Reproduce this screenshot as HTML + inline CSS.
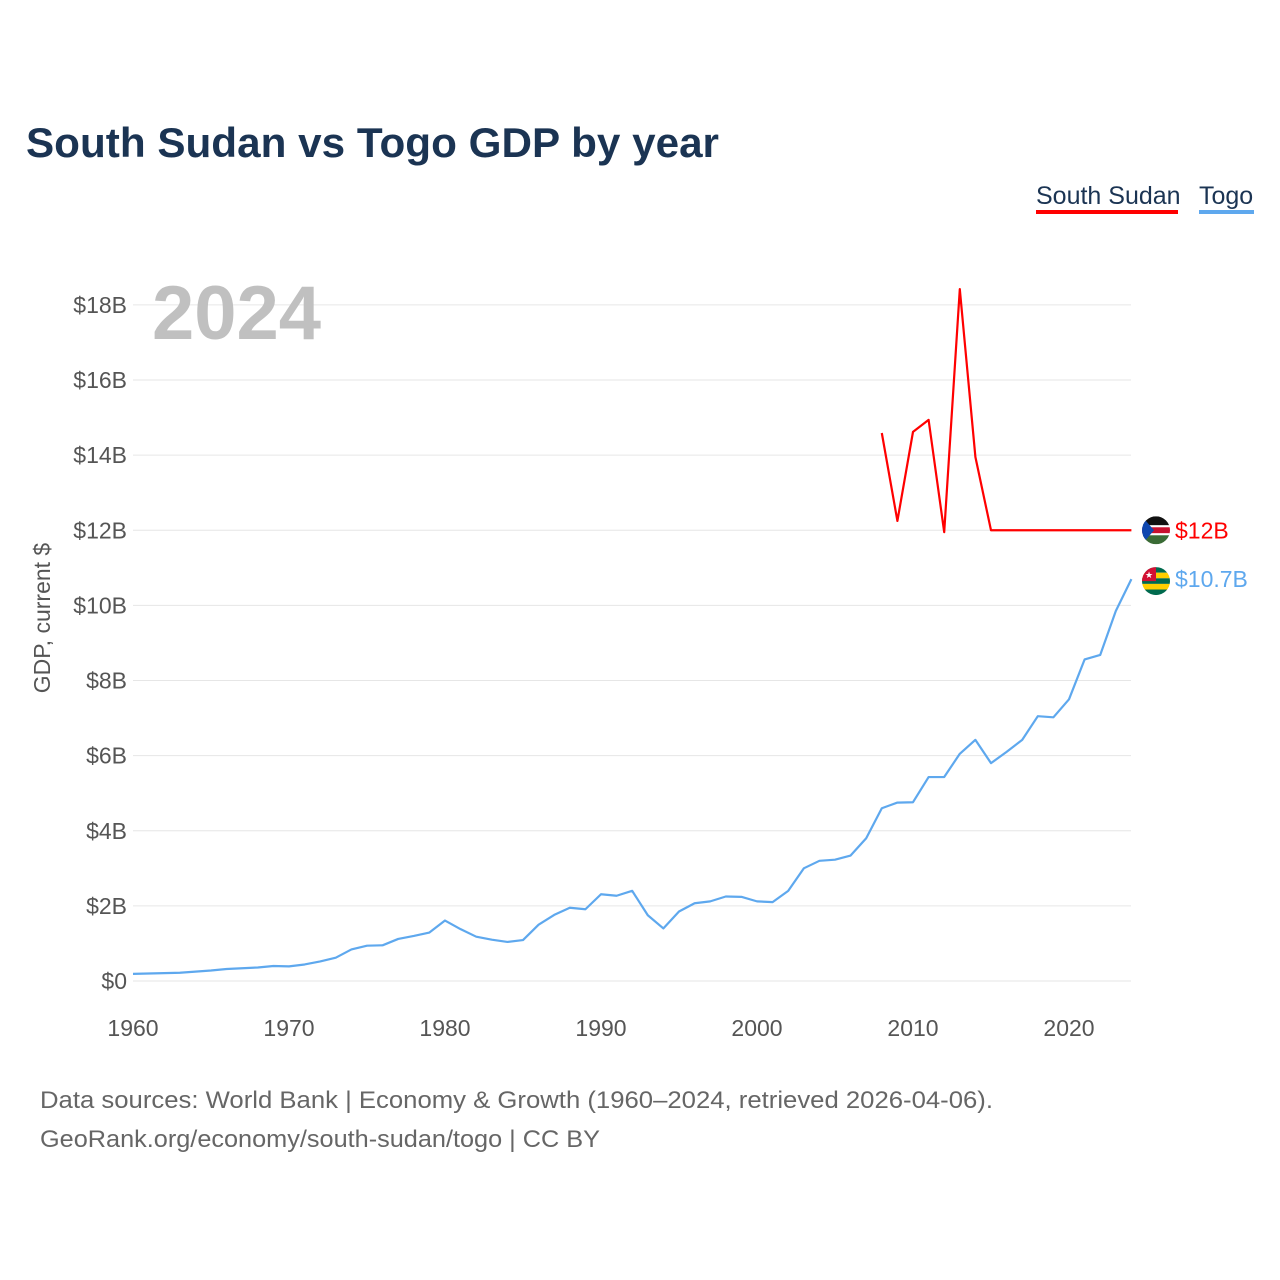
<!DOCTYPE html>
<html><head><meta charset="utf-8"><style>
body{margin:0;background:#fff;font-family:"Liberation Sans",sans-serif}
#wrap{position:relative;width:1280px;height:1280px;overflow:hidden}
</style></head><body>
<div id="wrap">
<svg id="svg" width="1280" height="1280"></svg>
</div>
<script>
const years = [];
for (let y = 1960; y <= 2024; y++) years.push(y);
const ssYears = [2008,2009,2010,2011,2012,2013,2014,2015,2016,2017,2018,2019,2020,2021,2022,2023,2024];
const ssValues = [14.59,12.25,14.62,14.94,11.95,18.42,13.95,12.0,12.0,12.0,12.0,12.0,12.0,12.0,12.0,12.0,12.0];
const togoValues = [0.19,0.2,0.21,0.22,0.25,0.28,0.32,0.34,0.36,0.4,0.39,0.44,0.52,0.62,0.84,0.94,0.95,1.12,1.2,1.29,1.61,1.38,1.18,1.1,1.04,1.09,1.5,1.76,1.95,1.91,2.31,2.27,2.4,1.75,1.4,1.85,2.07,2.12,2.25,2.24,2.12,2.1,2.4,3.0,3.2,3.23,3.34,3.8,4.6,4.75,4.76,5.43,5.43,6.05,6.42,5.8,6.1,6.42,7.05,7.02,7.5,8.56,8.68,9.85,10.7];
const yTicks = [0,2,4,6,8,10,12,14,16,18];
const yTickLabels = ["$0","$2B","$4B","$6B","$8B","$10B","$12B","$14B","$16B","$18B"];
const xTicks = [1960,1970,1980,1990,2000,2010,2020];

const X = y => 133 + (y - 1960) * 15.6;
const Y = v => 981 - v * 37.56;
const NS = "http://www.w3.org/2000/svg";
const svg = document.getElementById('svg');
function el(tag, attrs, text){const e=document.createElementNS(NS,tag);for(const k in attrs)e.setAttribute(k,attrs[k]);if(text!==undefined)e.textContent=text;svg.appendChild(e);return e;}

let t;
t = el('text',{x:26,y:157,'font-size':42,'font-weight':'bold',fill:'#1b3453',textLength:693,lengthAdjust:'spacingAndGlyphs'},'South Sudan vs Togo GDP by year');



t = el('text',{x:1036,y:204,'font-size':25,fill:'#1b3453'},'South Sudan');


t = el('rect',{x:1036,y:210,width:142,height:4,fill:'#ff0000'});


t = el('text',{x:1199,y:204,'font-size':25,fill:'#1b3453'},'Togo');


t = el('rect',{x:1199,y:210,width:55,height:4,fill:'#5ea8ee'});



yTicks.forEach((v,i)=>{
  const g = el('line',{x1:133,x2:1131,y1:Y(v),y2:Y(v),stroke:'#e6e6e6','stroke-width':1});
  
  
  const l = el('text',{x:127,y:Y(v)+8,'font-size':23,fill:'#555','text-anchor':'end'},yTickLabels[i]);
  
  
});
xTicks.forEach(yr=>{
  const l = el('text',{x:X(yr),y:1036,'font-size':23,fill:'#555','text-anchor':'middle'},String(yr));
  
  
});
t = el('text',{x:0,y:0,'font-size':23,fill:'#555','text-anchor':'middle',transform:'translate(50,618) rotate(-90)'},'GDP, current $');



t = el('text',{x:152,y:339,'font-size':76,'font-weight':'bold',fill:'#c0c0c0'},'2024');



t = el('polyline',{points:years.map((y,i)=>X(y)+','+Y(togoValues[i])).join(' '),fill:'none',stroke:'#5ea8ee','stroke-width':2.2,'stroke-linejoin':'round'});


t = el('polyline',{points:ssYears.map((y,i)=>X(y)+','+Y(ssValues[i])).join(' '),fill:'none',stroke:'#ff0000','stroke-width':2.2,'stroke-linejoin':'round'});



const ssEnd = Y(ssValues[ssValues.length-1]), tgEnd = Y(togoValues[togoValues.length-1]);
let c = el('circle',{cx:1156,cy:ssEnd,r:14,fill:'#fff'});


el('clipPath',{id:'cs'}).appendChild(document.createElementNS(NS,'circle'));
svg.lastChild.firstChild.setAttribute('cx',1156);svg.lastChild.firstChild.setAttribute('cy',ssEnd);svg.lastChild.firstChild.setAttribute('r',14);
[['#111',-14,9],['#fff',-5,2],['#c8102e',-3,6],['#fff',3,2],['#3a6b35',5,9]].forEach(s=>{el('rect',{x:1142,y:ssEnd+s[1],width:28,height:s[2],fill:s[0],'clip-path':'url(#cs)'});});
el('polygon',{points:`1142,${ssEnd-14} 1154,${ssEnd} 1142,${ssEnd+14}`,fill:'#0f47af','clip-path':'url(#cs)'});
t = el('text',{x:1175,y:ssEnd+8,'font-size':23,fill:'#ff0000'},'$12B');


el('clipPath',{id:'ct'}).appendChild(document.createElementNS(NS,'circle'));
svg.lastChild.firstChild.setAttribute('cx',1156);svg.lastChild.firstChild.setAttribute('cy',tgEnd+2);svg.lastChild.firstChild.setAttribute('r',14);
['#006a4e','#ffce00','#006a4e','#ffce00','#006a4e'].forEach((col,i)=>{el('rect',{x:1142,y:tgEnd-12+i*5.6,width:28,height:5.6,fill:col,'clip-path':'url(#ct)'});});
el('rect',{x:1142,y:tgEnd-12,width:14,height:14,fill:'#d21034','clip-path':'url(#ct)'});
el('text',{x:1149,y:tgEnd-1,'font-size':9,fill:'#fff','text-anchor':'middle'},'★');
t = el('text',{x:1175,y:tgEnd+8,'font-size':23,fill:'#5ea8ee'},'$10.7B');



t = el('text',{x:40,y:1108,'font-size':24,fill:'#666',textLength:953,lengthAdjust:'spacingAndGlyphs'},'Data sources: World Bank | Economy & Growth (1960–2024, retrieved 2026-04-06).');


t = el('text',{x:40,y:1147,'font-size':24,fill:'#666',textLength:560,lengthAdjust:'spacingAndGlyphs'},'GeoRank.org/economy/south-sudan/togo | CC BY');


</script>
</body></html>
